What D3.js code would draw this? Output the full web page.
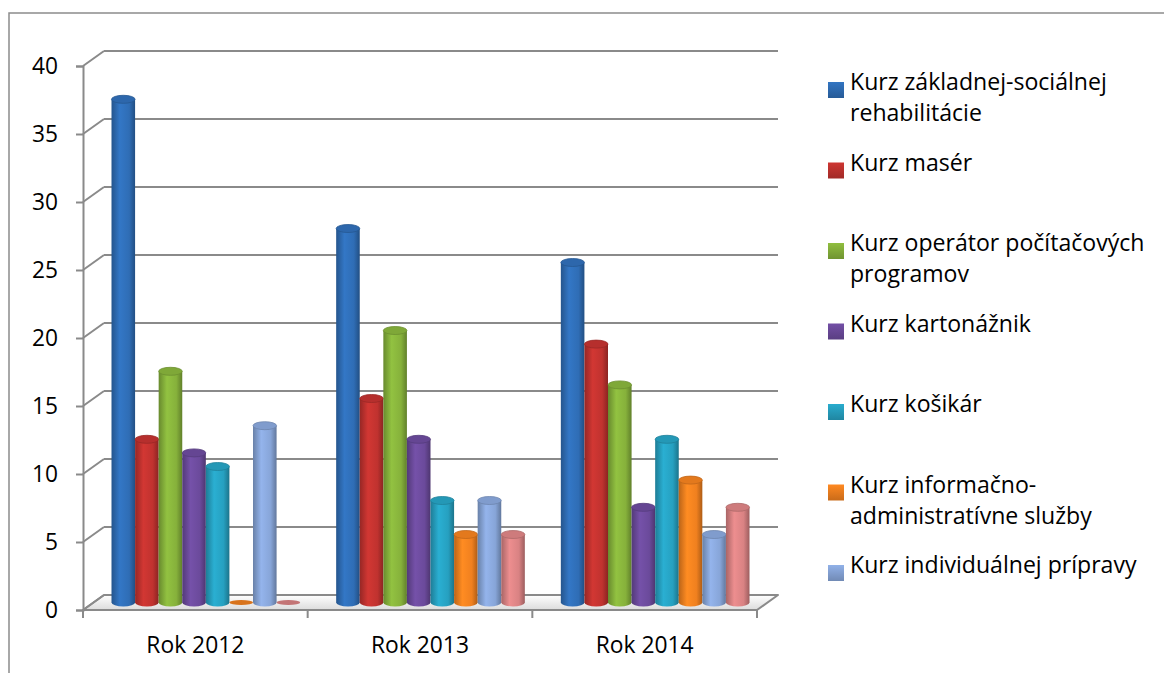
<!DOCTYPE html>
<html>
<head>
<meta charset="utf-8">
<script src="https://cdn.jsdelivr.net/npm/d3@7"></script>
<style>
  html, body { margin: 0; padding: 0; background: #fff; }
  svg { display: block; font-family: "Open Sans", "Noto Sans", sans-serif; }
</style>
</head>
<body>
<svg id="chart" width="1164" height="673"></svg>
<script>
const categories = ['Rok 2012', 'Rok 2013', 'Rok 2014']
const seriesNames = [
  'Kurz základnej-sociálnej rehabilitácie',
  'Kurz masér',
  'Kurz operátor počítačových programov',
  'Kurz kartonážnik',
  'Kurz košikár',
  'Kurz informačno-administratívne služby',
  'Kurz individuálnej prípravy',
  'Séria 8'
]
// values per series, one per year
const zakladnej   = [37, 27.5, 25]
const maser       = [12, 15, 19]
const operator    = [17, 20, 16]
const kartonaznik = [11, 12, 7]
const kosikar     = [10, 7.5, 12]
const informacno  = [0, 5, 9]
const individual  = [13, 7.5, 5]
const seria8      = [0, 5, 7]
const seriesValues = [zakladnej, maser, operator, kartonaznik, kosikar, informacno, individual, seria8]
const yTicks = [0, 5, 10, 15, 20, 25, 30, 35, 40]
const legendCount = 7 // the last series is cut off in the original legend

const colors = ['#2f6db5', '#c0322f', '#86b13b', '#6b4a9b', '#26a0c0', '#f0801f', '#87a5d8', '#d98283']

const svg = d3.select('#chart')
const depth = {dx: 21, dy: -15}
const mid = {dx: depth.dx / 2, dy: depth.dy / 2}

// pick a font size so that a sample string has the width seen in the original
const fitSize = (sample, target) => {
  const t = svg.append('text').attr('font-size', 20).text(sample)
  const w = t.node().getComputedTextLength()
  t.remove()
  return 20 * target / w
}
const legendFont = fitSize('Kurz základnej-sociálnej', 257)
const axisFont = fitSize('Rok 2012', 98)
const tickFont = fitSize('40', 26)

const yScale = d3.scaleLinear().domain([0, 40]).range([610, 66])
const xScale = d3.scaleBand().domain(categories).range([83, 757])
const sScale = d3.scaleBand()
  .domain(d3.range(seriesValues.length))
  .range([18, xScale.bandwidth() - 18])

// gradients for cylinders
const defs = svg.append('defs')
colors.forEach((c, i) => {
  const g = defs.append('linearGradient').attr('id', 'cyl' + i)
    .attr('x1', '0%').attr('x2', '100%').attr('y1', '0%').attr('y2', '0%')
  g.append('stop').attr('offset', '0%').attr('stop-color', d3.color(c).darker(0.7))
  g.append('stop').attr('offset', '35%').attr('stop-color', d3.color(c).brighter(0.25))
  g.append('stop').attr('offset', '75%').attr('stop-color', c)
  g.append('stop').attr('offset', '100%').attr('stop-color', d3.color(c).darker(0.9))
  const lg = defs.append('linearGradient').attr('id', 'leg' + i)
    .attr('x1', '0%').attr('x2', '0%').attr('y1', '0%').attr('y2', '100%')
  lg.append('stop').attr('offset', '0%').attr('stop-color', d3.color(c).brighter(0.2))
  lg.append('stop').attr('offset', '100%').attr('stop-color', d3.color(c).darker(0.5))
})
const floorGrad = defs.append('linearGradient').attr('id', 'floor')
  .attr('x1', '0%').attr('x2', '0%').attr('y1', '0%').attr('y2', '100%')
floorGrad.append('stop').attr('offset', '0%').attr('stop-color', '#ffffff')
floorGrad.append('stop').attr('offset', '100%').attr('stop-color', '#dcdcdc')

// chart frame (cut off at right and bottom)
svg.append('rect')
  .attr('x', 9).attr('y', 13).attr('width', 1200).attr('height', 700)
  .attr('fill', 'none').attr('stroke', '#8c8c8c').attr('stroke-width', 1.5)

const x0 = xScale.range()[0], x1 = xScale.range()[1]
const gridColor = '#8a8a8a'

// floor
const y0 = yScale(0)
svg.append('path')
  .attr('d', `M${x0},${y0} L${x0 + depth.dx},${y0 + depth.dy} L${x1 + depth.dx},${y0 + depth.dy} L${x1},${y0} Z`)
  .attr('fill', 'url(#floor)')
  .attr('stroke', gridColor).attr('stroke-width', 2).attr('stroke-linejoin', 'round')

// gridlines on back wall + diagonals on side wall
const grid = svg.append('g')
yTicks.forEach(t => {
  const y = yScale(t)
  grid.append('line')
    .attr('x1', x0).attr('y1', y).attr('x2', x0 + depth.dx).attr('y2', y + depth.dy)
    .attr('stroke', gridColor).attr('stroke-width', 2)
  grid.append('line')
    .attr('x1', x0 + depth.dx).attr('y1', y + depth.dy).attr('x2', x1 + depth.dx).attr('y2', y + depth.dy)
    .attr('stroke', gridColor).attr('stroke-width', 2)
})

// y axis
svg.append('g')
  .attr('class', 'y axis')
  .attr('transform', `translate(${x0}, 0)`)
  .call(d3.axisLeft(yScale).tickValues(yTicks).tickSize(7).tickPadding(18))
  .call(g => g.select('.domain').attr('stroke', gridColor).attr('stroke-width', 2))
  .call(g => g.selectAll('.tick line').attr('stroke', gridColor).attr('stroke-width', 2))
  .call(g => g.selectAll('.tick text').attr('font-size', tickFont).attr('fill', '#000').attr('font-family', null))
  .attr('font-size', null).attr('font-family', null)

// x axis
const xTickPos = categories.map(c => xScale(c)).concat([x1])
const xg = svg.append('g').attr('class', 'x axis')
xTickPos.forEach(x => {
  xg.append('line').attr('x1', x).attr('x2', x).attr('y1', y0).attr('y2', y0 + 8)
    .attr('stroke', gridColor).attr('stroke-width', 2)
})
xg.selectAll('text').data(categories).enter().append('text')
  .attr('x', d => xScale(d) + xScale.bandwidth() / 2)
  .attr('y', 645)
  .attr('dy', '0.35em')
  .attr('text-anchor', 'middle')
  .attr('font-size', axisFont)
  .text(d => d)

// cylinders
const ry = 4
const bars = svg.append('g').attr('class', 'bars')
categories.forEach((cat, ci) => {
  seriesValues.forEach((vals, si) => {
    const v = vals[ci]
    const w = sScale.bandwidth()
    const left = xScale(cat) + sScale(si) + mid.dx
    const cx = left + w / 2
    const yb = yScale(0) + mid.dy
    const yt = yScale(v) + mid.dy
    const g = bars.append('g')
    const col = colors[si]
    if (v > 0) {
      g.append('path')
        .attr('d', `M${left},${yt} L${left},${yb} A${w / 2},${ry} 0 0 0 ${left + w},${yb} L${left + w},${yt} Z`)
        .attr('fill', `url(#cyl${si})`)
      g.append('ellipse')
        .attr('cx', cx).attr('cy', yt).attr('rx', w / 2).attr('ry', ry)
        .attr('fill', d3.color(col).darker(0.15))
        .attr('stroke', d3.color(col).darker(0.6)).attr('stroke-width', 0.8)
    } else {
      g.append('ellipse')
        .attr('cx', cx).attr('cy', yb).attr('rx', w / 2).attr('ry', ry * 0.6)
        .attr('fill', d3.color(col).darker(0.3))
    }
  })
})

// legend
const legend = svg.append('g').attr('class', 'legend')
const legX = 828, legY0 = 90, legStep = 80.5, lineH = 31, wrapW = 305
seriesNames.slice(0, legendCount).forEach((name, i) => {
  const y = legY0 + i * legStep
  legend.append('rect')
    .attr('x', legX).attr('y', y - 8).attr('width', 16).attr('height', 16)
    .attr('fill', `url(#leg${i})`)
  const text = legend.append('text')
    .attr('x', legX + 22).attr('y', y).attr('dy', '0.35em')
    .attr('font-size', legendFont)
  // wrap on spaces and after hyphens
  const tokens = name.match(/[^\s-]+-?\s?/g)
  let line = ''
  let tspan = text.append('tspan').attr('x', legX + 22).attr('dy', 0)
  tokens.forEach(tok => {
    const test = line + tok
    tspan.text(test.trimEnd())
    if (tspan.node().getComputedTextLength() > wrapW && line) {
      tspan.text(line.trimEnd())
      line = tok
      tspan = text.append('tspan').attr('x', legX + 22).attr('dy', lineH).text(tok.trimEnd())
    } else {
      line = test
    }
  })
})
</script>
</body>
</html>
